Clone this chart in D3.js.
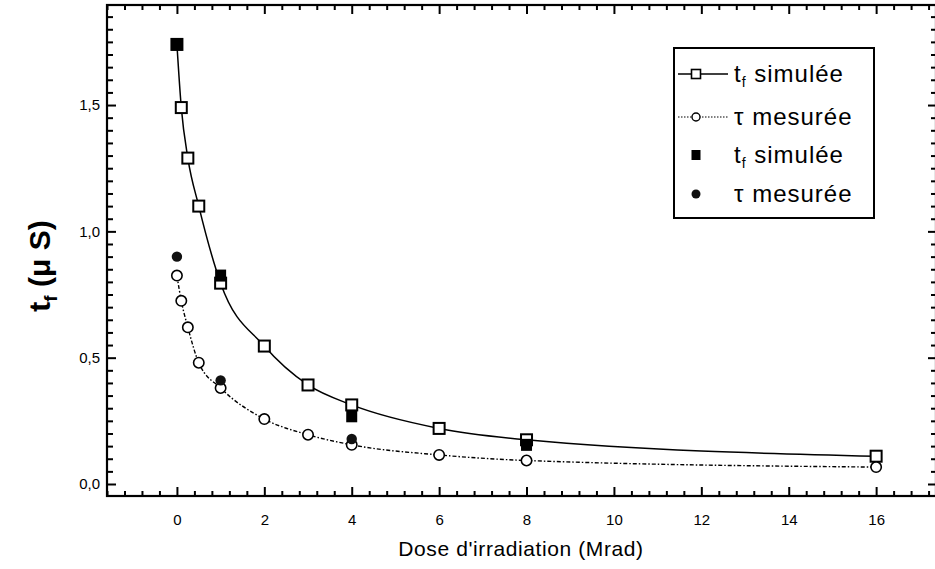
<!DOCTYPE html>
<html><head><meta charset="utf-8">
<script src="https://cdn.jsdelivr.net/npm/d3@7"></script>
<style>
body{margin:0;background:#fff;}
text{font-family:"Liberation Sans",Arial,sans-serif;fill:#000;}
</style></head>
<body><svg id="c" width="935" height="569"></svg>
<script>
// data
const simX   = [0, 0.1, 0.25, 0.5, 1, 2, 3, 4, 6, 8, 16];
const simY   = [1.74, 1.49, 1.29, 1.10, 0.795, 0.546, 0.392, 0.313, 0.22, 0.175, 0.11];
const mesX   = [0, 0.1, 0.25, 0.5, 1, 2, 3, 4, 6, 8, 16];
const mesY   = [0.825, 0.725, 0.62, 0.48, 0.38, 0.257, 0.195, 0.155, 0.115, 0.093, 0.067];
const simFX  = [0, 1, 4, 8];
const simFY  = [1.74, 0.825, 0.268, 0.155];
const mesFX  = [0, 1, 4];
const mesFY  = [0.90, 0.41, 0.178];
const xTicks = [0, 2, 4, 6, 8, 10, 12, 14, 16];
const yTicks = [0, 0.5, 1.0, 1.5];
const legendLabels = ["simulée", "mesurée", "simulée", "mesurée"];

const svg = d3.select("#c");
const L = 107, R = 936, T = 5, B = 496;
const x = d3.scaleLinear().domain([-1.6, 17.37]).range([L, R]);
const y = d3.scaleLinear().domain([-0.0475, 1.896]).range([B, T]);

const xMinor = d3.range(-1.6, 17.4, 0.4).map(v => +v.toFixed(2)).filter(v => Math.abs(v / 2 - Math.round(v / 2)) > 1e-6);
const yMinor = d3.range(0, 1.9, 0.05).map(v => +v.toFixed(2)).filter(v => Math.abs(v / 0.5 - Math.round(v / 0.5)) > 1e-6);
const fmtY = d => d3.format(".1f")(d).replace(".", ",");

function styleAxis(g){ g.select(".domain").remove(); g.selectAll("line").attr("stroke","#000").attr("stroke-width",2); }

// bottom
svg.append("g").attr("transform",`translate(0,${B})`)
  .call(d3.axisBottom(x).tickValues(xMinor).tickSize(-5).tickFormat(""))
  .call(styleAxis);
svg.append("g").attr("transform",`translate(0,${B})`)
  .call(d3.axisBottom(x).tickValues(xTicks).tickSize(-9).tickPadding(18).tickFormat(d3.format("d")))
  .call(styleAxis)
  .call(g => g.selectAll("text").attr("font-size",15).attr("dy","0.71em"));
// top
svg.append("g").attr("transform",`translate(0,${T})`)
  .call(d3.axisTop(x).tickValues(xMinor).tickSize(-5).tickFormat(""))
  .call(styleAxis);
svg.append("g").attr("transform",`translate(0,${T})`)
  .call(d3.axisTop(x).tickValues(xTicks).tickSize(-9).tickFormat(""))
  .call(styleAxis);
// left
svg.append("g").attr("transform",`translate(${L},0)`)
  .call(d3.axisLeft(y).tickValues(yMinor).tickSize(-6).tickFormat(""))
  .call(styleAxis);
svg.append("g").attr("transform",`translate(${L},0)`)
  .call(d3.axisLeft(y).tickValues(yTicks).tickSize(-9).tickPadding(7).tickFormat(fmtY))
  .call(styleAxis)
  .call(g => g.selectAll("text").attr("font-size",15));
// right
svg.append("g").attr("transform",`translate(${R},0)`)
  .call(d3.axisRight(y).tickValues(yMinor).tickSize(-5).tickFormat(""))
  .call(styleAxis);
svg.append("g").attr("transform",`translate(${R},0)`)
  .call(d3.axisRight(y).tickValues(yTicks).tickSize(-8).tickFormat(""))
  .call(styleAxis);

// frame
svg.append("rect").attr("x",L).attr("y",T).attr("width",R-L).attr("height",B-T)
  .attr("fill","none").attr("stroke","#000").attr("stroke-width",2.2);

// lines
const line = d3.line().x(d => x(d[0])).y(d => y(d[1])).curve(d3.curveMonotoneX);
svg.append("path").datum(simX.map((v,i)=>[v,simY[i]])).attr("d",line)
  .attr("fill","none").attr("stroke","#000").attr("stroke-width",1.5);
svg.append("path").datum(mesX.map((v,i)=>[v,mesY[i]])).attr("d",line)
  .attr("fill","none").attr("stroke","#000").attr("stroke-width",1.4).attr("stroke-dasharray","4,2,1.5,2");

// open markers
svg.append("g").selectAll("rect").data(simX.map((v,i)=>[v,simY[i]])).join("rect")
  .attr("x",d=>x(d[0])-5.5).attr("y",d=>y(d[1])-5.5).attr("width",11).attr("height",11)
  .attr("fill","#fff").attr("stroke","#000").attr("stroke-width",2);
svg.append("g").selectAll("circle").data(mesX.map((v,i)=>[v,mesY[i]])).join("circle")
  .attr("cx",d=>x(d[0])).attr("cy",d=>y(d[1])).attr("r",5.2)
  .attr("fill","#fff").attr("stroke","#000").attr("stroke-width",1.6);
// filled markers
svg.append("g").selectAll("rect").data(simFX.map((v,i)=>[v,simFY[i]])).join("rect")
  .attr("x",d=>x(d[0])-5.5).attr("y",d=>y(d[1])-6).attr("width",11).attr("height",12)
  .attr("fill","#000");
svg.append("g").selectAll("circle").data(mesFX.map((v,i)=>[v,mesFY[i]])).join("circle")
  .attr("cx",d=>x(d[0])).attr("cy",d=>y(d[1])).attr("r",5.2)
  .attr("fill","#111");

// legend
const lg = svg.append("g");
lg.append("rect").attr("x",674).attr("y",48).attr("width",200).attr("height",170)
  .attr("fill","#fff").attr("stroke","#000").attr("stroke-width",2);
const rows = [74, 117, 155, 194];
const sx = 696;
lg.append("line").attr("x1",678).attr("x2",728).attr("y1",rows[0]).attr("y2",rows[0]).attr("stroke","#000").attr("stroke-width",1.5);
lg.append("rect").attr("x",sx-4.5).attr("y",rows[0]-4.5).attr("width",9).attr("height",9).attr("fill","#fff").attr("stroke","#000").attr("stroke-width",1.6);
lg.append("line").attr("x1",678).attr("x2",728).attr("y1",rows[1]).attr("y2",rows[1]).attr("stroke","#000").attr("stroke-width",1.2).attr("stroke-dasharray","1.5,1.5");
lg.append("circle").attr("cx",sx).attr("cy",rows[1]).attr("r",4).attr("fill","#fff").attr("stroke","#000").attr("stroke-width",1.4);
lg.append("rect").attr("x",sx-4.5).attr("y",rows[2]-5).attr("width",9).attr("height",10).attr("fill","#000");
lg.append("circle").attr("cx",sx).attr("cy",rows[3]).attr("r",4.5).attr("fill","#111");
const symbols = ["t", "τ", "t", "τ"];
rows.forEach((ry,i) => {
  const t = lg.append("text").attr("x",734).attr("y",ry+8).attr("font-size",24).attr("letter-spacing",1);
  t.append("tspan").text(symbols[i]);
  if (symbols[i] === "t") {
    t.append("tspan").attr("font-size",14).attr("dy",5).text("f");
    t.append("tspan").attr("dy",-5).text(" " + legendLabels[i]);
  } else {
    t.append("tspan").text(" " + legendLabels[i]);
  }
});

// axis titles
svg.append("text").attr("x",521).attr("y",556).attr("text-anchor","middle").attr("font-size",21).attr("letter-spacing",0.6)
  .text("Dose d'irradiation (Mrad)");
const yt = svg.append("text").attr("transform","translate(50,266) rotate(-90)")
  .attr("text-anchor","middle").attr("font-size",30).attr("font-weight","bold");
yt.append("tspan").text("t");
yt.append("tspan").attr("font-size",19).attr("dy",7).text("f");
yt.append("tspan").attr("dy",-7).text(" (μ S)");
</script></body></html>
